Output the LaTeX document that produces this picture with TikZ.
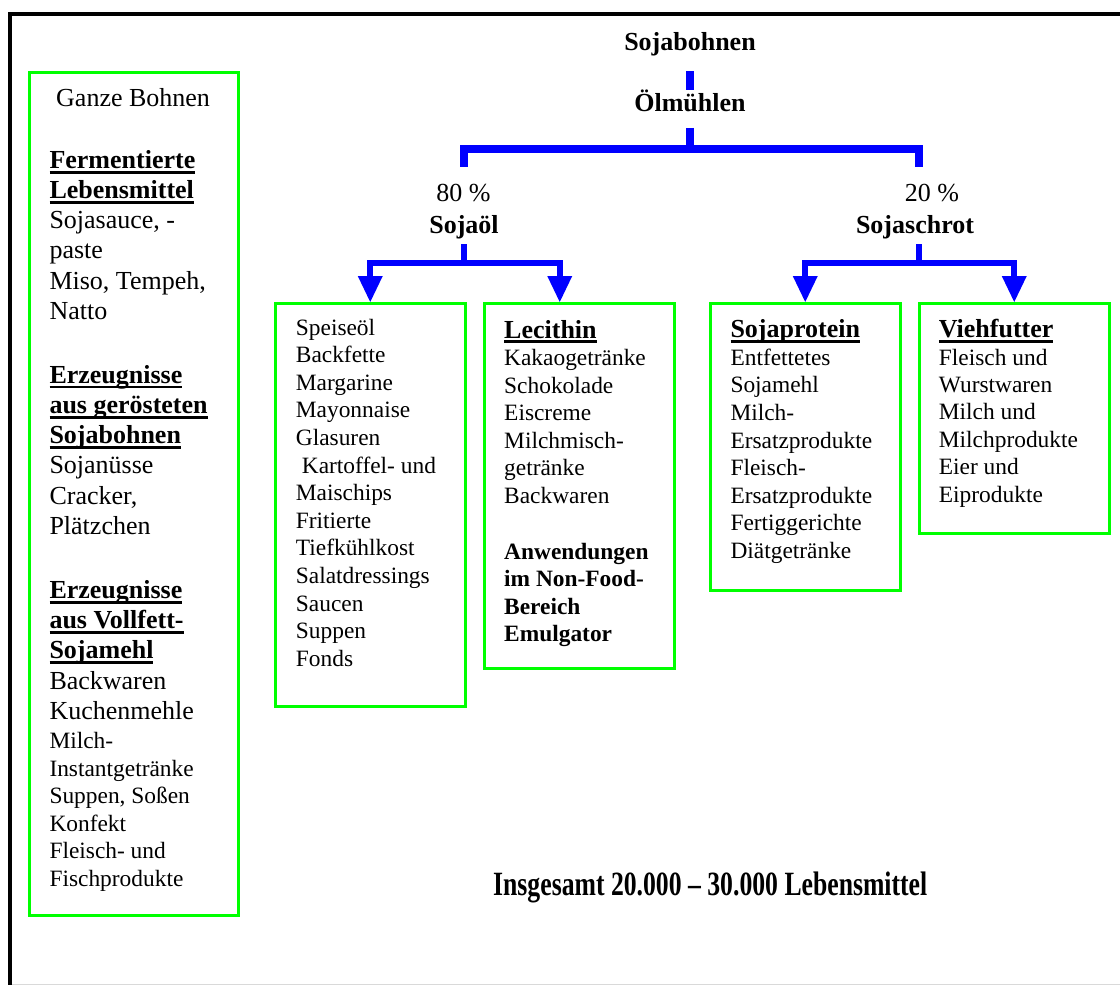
\documentclass[tikz,border=0pt]{standalone}
\usepackage{fontspec}
\setmainfont{Liberation Serif}
\usepackage{graphicx}
\usetikzlibrary{arrows.meta}
\definecolor{boxgreen}{RGB}{0,255,0}
\definecolor{linkblue}{RGB}{0,0,255}
\newcommand\bodyf{\fontsize{23.4}{27.6}\selectfont}
\newcommand\labf{\fontsize{26}{30}\selectfont}
\newcommand\fixsp{\spaceskip=0pt\xspaceskip=0pt\relax}
\newcommand\ulhd[1]{\leavevmode\setbox0=\hbox{#1}\rlap{\rule[-5.2pt]{\wd0}{2.8pt}}\box0}
\begin{document}
\begin{tikzpicture}[x=1pt,y=-1pt,
  gbox/.style={draw=boxgreen, line width=2.5pt, inner sep=0pt, anchor=north west},
  txt/.style={inner sep=0pt, anchor=base west, align=left},
  lab/.style={inner sep=0pt, text height=18pt, text depth=6pt, anchor=base, font=\labf},
  tline/.style={draw=linkblue, line width=8pt},
  mline/.style={draw=linkblue, line width=6pt},
  tip/.style={-{Triangle[width=25pt,length=26pt,line width=0pt]}}]
\useasboundingbox (0,0) rectangle (1120,985);
% outer frame (cut off at right and bottom)
\begin{scope}
\clip (0,0) rectangle (1120,985);
\draw[line width=4pt] (10.3,1010) -- (10.3,13.5) -- (1140,13.5);
\draw[black!15, line width=1pt] (12,984.5) -- (1120,984.5);
\end{scope}
% boxes
\node[gbox, minimum width=209pt, minimum height=843pt] (b0) at (28,71) {};
\node[gbox, minimum width=190pt, minimum height=403pt] (b1) at (274,302) {};
\node[gbox, minimum width=190pt, minimum height=365pt] (b2) at (483,302) {};
\node[gbox, minimum width=190pt, minimum height=287pt] (b3) at (709,302) {};
\node[gbox, minimum width=190pt, minimum height=230pt] (b4) at (918,302) {};
% top labels
\node[lab] (soja) at (690,50) {\textbf{Sojabohnen}};
\node[lab] (oel) at (690,111) {\textbf{Ölmühlen}};
\node[lab] (p80) at (463.5,201.7) {80 \%};
\node[lab] (sojaoel) at (464,233.3) {\textbf{Sojaöl}};
\node[lab] (p20) at (932,201.7) {20 \%};
\node[lab] (schrot) at (915,233.3) {\textbf{Sojaschrot}};
% left box text
\node[txt, text width=200pt] (t0) at (49.3,106) {\fixsp\fontsize{26}{30.2}\selectfont
\hspace*{6.7pt}Ganze Bohnen\\[32.1pt]
\ulhd{\textbf{Fermentierte}}\\
\ulhd{\textbf{Lebensmittel}}\\
Sojasauce, -\\
paste\\
Miso, Tempeh,\\
Natto\\[33.8pt]
\ulhd{\textbf{Erzeugnisse}}\\
\ulhd{\textbf{aus gerösteten}}\\
\ulhd{\textbf{Sojabohnen}}\\
Sojanüsse\\
Cracker,\\
Plätzchen\\[34.1pt]
\ulhd{\textbf{Erzeugnisse}}\\
\ulhd{\textbf{aus Vollfett-}}\\
\ulhd{\textbf{Sojamehl}}\\
Backwaren\\
Kuchenmehle\\[-0.9pt]
{\bodyf Milch-}\\[-2.5pt]
{\bodyf Instantgetränke}\\[-2.8pt]
{\bodyf Suppen, Soßen}\\[-2.8pt]
{\bodyf Konfekt}\\[-2.6pt]
{\bodyf Fleisch- und}\\
{\bodyf Fischprodukte\par}};
% box 1 text
\node[txt, text width=165pt] (t1) at (295.7,335) {\fixsp\bodyf
Speiseöl\\ Backfette\\ Margarine\\ Mayonnaise\\ Glasuren\\
\hspace*{6pt}Kartoffel- und\\ Maischips\\ Fritierte\\ Tiefkühlkost\\
Salatdressings\\ Saucen\\ Suppen\\ Fonds\par};
% box 2 text
\node[txt, text width=165pt] (t2) at (504,338) {\fixsp\fontsize{23.4}{27.5}\selectfont
{\labf\ulhd{\textbf{Lecithin}}}\\
Kakaogetränke\\ Schokolade\\ Eiscreme\\ Milchmisch-\\ getränke\\ Backwaren\\[28.5pt]
\textbf{Anwendungen}\\ \textbf{im Non-Food-}\\ \textbf{Bereich}\\ \textbf{Emulgator}\par};
% box 3 text
\node[txt, text width=165pt] (t3) at (730.3,337.7) {\fixsp\bodyf
{\labf\ulhd{\textbf{Sojaprotein}}}\\
Entfettetes\\ Sojamehl\\ Milch-\\ Ersatzprodukte\\ Fleisch-\\
Ersatzprodukte\\ Fertiggerichte\\ Diätgetränke\par};
% box 4 text
\node[txt, text width=165pt] (t4) at (938.7,337.7) {\fixsp\fontsize{23.4}{27.4}\selectfont
{\labf\ulhd{\textbf{Viehfutter}}}\\
Fleisch und\\ Wurstwaren\\ Milch und\\ Milchprodukte\\ Eier und\\ Eiprodukte\par};
% total
\node[inner sep=0pt, anchor=base west] (total) at (493,895)
  {\scalebox{0.756}[1]{\fontsize{34}{40}\selectfont\textbf{Insgesamt 20.000 – 30.000 Lebensmittel}}};
% connectors, top level
\coordinate (tj) at (690,148.5);
\draw[tline, shorten <=15pt, shorten >=3pt] (soja.south) -- (oel.north);
\draw[tline, shorten <=10.7pt] (oel.south) -- (tj);
\draw[tline] (tj) -| ([yshift=16.7pt]p80.north);
\draw[tline] (tj) -| ([xshift=-13pt,yshift=16.7pt]p20.north);
% connectors, second level
\coordinate (j1) at (464,263);
\coordinate (j2) at (918.5,263);
\draw[mline, shorten <=4.7pt] (sojaoel.south) -- (j1);
\draw[mline, tip] (j1) -| (b1.north);
\draw[mline, tip] (j1) -| ([xshift=-19.5pt]b2.north);
\draw[mline, shorten <=4.7pt] ([xshift=3.5pt]schrot.south) -- (j2);
\draw[mline, tip] (j2) -| (b3.north);
\draw[mline, tip] (j2) -| (b4.north);
\end{tikzpicture}
\end{document}
